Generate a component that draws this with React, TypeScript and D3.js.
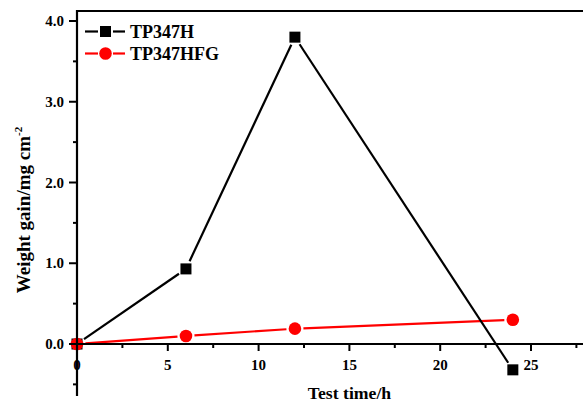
import React from "react";
import * as d3 from "d3";

// Test time (h)
const times = [0, 6, 12, 24];
// Weight gain (mg cm^-2)
const tp347h = [0, 0.93, 3.8, -0.32];
const tp347hfg = [0, 0.1, 0.19, 0.3];

const seriesNames = ["TP347H", "TP347HFG"];
const seriesColors = ["#000000", "#ff0000"];

const xMajorTicks = [0, 5, 10, 15, 20, 25];
const xMinorTicks = [2.5, 7.5, 12.5, 17.5, 22.5, 27.5];
const yMajorTicks = [0, 1, 2, 3, 4];
const yMinorTicks = [-0.5, 0.5, 1.5, 2.5, 3.5];

const W = 583;
const H = 403;
const FONT = "'Liberation Serif', 'Times New Roman', serif";

const x = d3.scaleLinear().domain([0, 25]).range([77, 531]);
const y = d3.scaleLinear().domain([0, 4]).range([344, 21]);

const plotLeft = x(0);
const plotTop = 11;
const plotRight = W;
const yAxisBottom = 396;

// Segments between consecutive points, trimmed so the line stops short of each marker
function trimmedSegments(xs: number[], ys: number[], gap: number) {
  const pts = xs.map((t, i) => [x(t), y(ys[i])] as [number, number]);
  const segs: [number, number][][] = [];
  for (let i = 0; i < pts.length - 1; i++) {
    const [x0, y0] = pts[i];
    const [x1, y1] = pts[i + 1];
    const len = Math.hypot(x1 - x0, y1 - y0);
    if (len <= 2 * gap) continue;
    const ux = (x1 - x0) / len;
    const uy = (y1 - y0) / len;
    segs.push([
      [x0 + ux * gap, y0 + uy * gap],
      [x1 - ux * gap, y1 - uy * gap],
    ]);
  }
  return segs;
}

const lineGen = d3.line<[number, number]>();

export default function App() {
  const hSegs = trimmedSegments(times, tp347h, 8.5);
  const fgSegs = trimmedSegments(times, tp347hfg, 8.5);

  return (
    <svg
      width={W}
      height={H}
      style={{ position: "absolute", left: 0, top: 0, background: "#fff" }}
      fontFamily={FONT}
    >
      {/* series lines */}
      {fgSegs.map((s, i) => (
        <path key={"fg" + i} d={lineGen(s) || ""} stroke={seriesColors[1]} strokeWidth={2.2} fill="none" />
      ))}
      {hSegs.map((s, i) => (
        <path key={"h" + i} d={lineGen(s) || ""} stroke={seriesColors[0]} strokeWidth={2.2} fill="none" />
      ))}

      {/* markers */}
      {times.map((t, i) => (
        <rect key={"r" + i} x={x(t) - 5.5} y={y(tp347h[i]) - 5.5} width={11} height={11} fill={seriesColors[0]} />
      ))}
      {times.map((t, i) => (
        <circle key={"c" + i} cx={x(t)} cy={y(tp347hfg[i])} r={6.3} fill={seriesColors[1]} />
      ))}

      {/* axes frame */}
      <line x1={plotLeft} x2={plotRight} y1={plotTop} y2={plotTop} stroke="#000" strokeWidth={2.2} />
      <line x1={plotLeft} x2={plotLeft} y1={plotTop - 1} y2={yAxisBottom} stroke="#000" strokeWidth={2.2} />
      <line x1={plotLeft} x2={plotRight} y1={y(0)} y2={y(0)} stroke="#000" strokeWidth={2.2} />

      {/* x ticks */}
      {xMajorTicks.map((t) => (
        <g key={"xt" + t}>
          <line x1={x(t)} x2={x(t)} y1={y(0)} y2={y(0) + 7} stroke="#000" strokeWidth={2} />
          <text x={x(t)} y={y(0) + 26} textAnchor="middle" fontSize={15} fontWeight="bold">
            {t}
          </text>
        </g>
      ))}
      {xMinorTicks.map((t) => (
        <line key={"xm" + t} x1={x(t)} x2={x(t)} y1={y(0)} y2={y(0) + 4} stroke="#000" strokeWidth={2} />
      ))}

      {/* y ticks */}
      {yMajorTicks.map((v) => (
        <g key={"yt" + v}>
          <line x1={plotLeft - 8} x2={plotLeft} y1={y(v)} y2={y(v)} stroke="#000" strokeWidth={2} />
          <text x={plotLeft - 13} y={y(v) + 5} textAnchor="end" fontSize={15} fontWeight="bold">
            {d3.format(".1f")(v)}
          </text>
        </g>
      ))}
      {yMinorTicks.map((v) => (
        <line key={"ym" + v} x1={plotLeft - 4} x2={plotLeft} y1={y(v)} y2={y(v)} stroke="#000" strokeWidth={2} />
      ))}

      {/* axis titles */}
      <text x={349.5} y={399} textAnchor="middle" fontSize={17.7} fontWeight="bold">
        Test time/h
      </text>
      <text
        transform={`translate(30, 210) rotate(-90)`}
        textAnchor="middle"
        fontSize={19}
        fontWeight="bold"
      >
        Weight gain/mg cm
        <tspan dy={-8} fontSize={11}>-2</tspan>
      </text>

      {/* legend */}
      {seriesNames.map((name, i) => {
        const ly = 31.5 + i * 22;
        return (
          <g key={"lg" + i}>
            <line x1={85} x2={98} y1={ly} y2={ly} stroke={seriesColors[i]} strokeWidth={2.2} />
            <line x1={113} x2={125} y1={ly} y2={ly} stroke={seriesColors[i]} strokeWidth={2.2} />
            {i === 0 ? (
              <rect x={105.5 - 5.5} y={ly - 5.5} width={11} height={11} fill={seriesColors[i]} />
            ) : (
              <circle cx={105.5} cy={ly} r={6.3} fill={seriesColors[i]} />
            )}
            <text x={130} y={ly + 6} fontSize={18} fontWeight="bold">
              {name}
            </text>
          </g>
        );
      })}
    </svg>
  );
}
